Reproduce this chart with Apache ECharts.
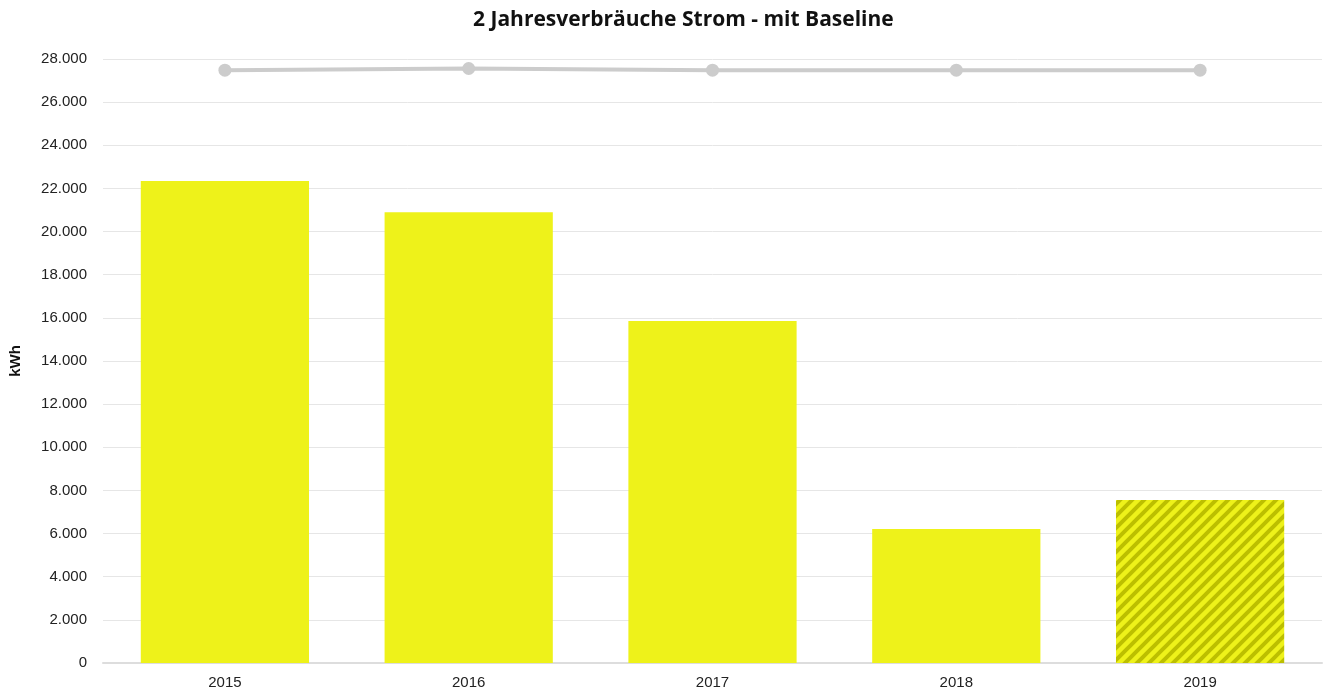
<!DOCTYPE html>
<html>
<head>
<meta charset="utf-8">
<script src="https://cdn.jsdelivr.net/npm/echarts@6/dist/echarts.min.js"></script>
<style>
  html, body { margin: 0; padding: 0; background: #fff; }
  #chart { width: 1323px; height: 695px; }
</style>
</head>
<body>
<div id="chart"></div>
<script>
var years = ['2015', '2016', '2017', '2018', '2019'];
var verbrauch = [22350, 20900, 15850, 6210, 7560];
var baseline = [27480, 27560, 27480, 27480, 27480];
var hochgerechnet = [false, false, false, false, true]; // 2019 schraffiert

var gelb = '#eef21a';

// Schraffur für das laufende Jahr
function makeHatch() {
  var s = 12;
  var c = document.createElement('canvas');
  c.width = s;
  c.height = s;
  var ctx = c.getContext('2d');
  ctx.fillStyle = gelb;
  ctx.fillRect(0, 0, s, s);
  ctx.strokeStyle = '#bcbf00';
  ctx.lineWidth = 4;
  ctx.beginPath();
  ctx.moveTo(-s / 2, s / 2); ctx.lineTo(s / 2, -s / 2);
  ctx.moveTo(0, s); ctx.lineTo(s, 0);
  ctx.moveTo(s / 2, s * 1.5); ctx.lineTo(s * 1.5, s / 2);
  ctx.stroke();
  return c;
}
var hatch = makeHatch();

function fmt(v) {
  return String(v).replace(/\B(?=(\d{3})+(?!\d))/g, '.');
}

var chart = echarts.init(document.getElementById('chart'));

var barData = verbrauch.map(function (v, i) {
  if (hochgerechnet[i]) {
    return { value: v, itemStyle: { color: { image: hatch, repeat: 'repeat' } } };
  }
  return v;
});

var option = {
  animation: false,
  title: {
    text: '2 Jahresverbräuche Strom - mit Baseline',
    left: 468,
    top: 5,
    textStyle: {
      fontFamily: 'Open Sans',
      fontWeight: 'bold',
      fontSize: 21,
      color: '#111'
    }
  },
  grid: {
    left: 102,
    right: 1,
    top: 59,
    bottom: 32,
    containLabel: false
  },
  xAxis: {
    type: 'category',
    data: years,
    axisLine: { lineStyle: { color: '#dddddd', width: 2 } },
    axisTick: { alignWithLabel: true, length: 8, lineStyle: { color: '#dddddd', width: 2 } },
    axisLabel: { color: '#222', fontSize: 15, fontFamily: 'Liberation Sans', margin: 12 }
  },
  yAxis: {
    type: 'value',
    min: 0,
    max: 28000,
    interval: 2000,
    name: 'kWh',
    nameLocation: 'middle',
    nameGap: 80,
    nameTextStyle: { fontFamily: 'Liberation Sans', fontWeight: 'bold', fontSize: 15, color: '#111' },
    axisLine: { show: false },
    axisTick: { show: false },
    axisLabel: {
      color: '#222',
      fontSize: 15,
      fontFamily: 'Liberation Sans',
      margin: 16,
      formatter: fmt
    },
    splitLine: { lineStyle: { color: '#e6e6e6', width: 1 } }
  },
  series: [
    {
      name: 'Verbrauch',
      type: 'bar',
      data: barData,
      barWidth: '69%',
      itemStyle: { color: gelb }
    },
    {
      name: 'Baseline',
      type: 'line',
      data: baseline,
      symbol: 'circle',
      symbolSize: 13,
      lineStyle: { color: '#cccccc', width: 4 },
      itemStyle: { color: '#cccccc' }
    }
  ]
};

chart.setOption(option);
</script>
</body>
</html>
